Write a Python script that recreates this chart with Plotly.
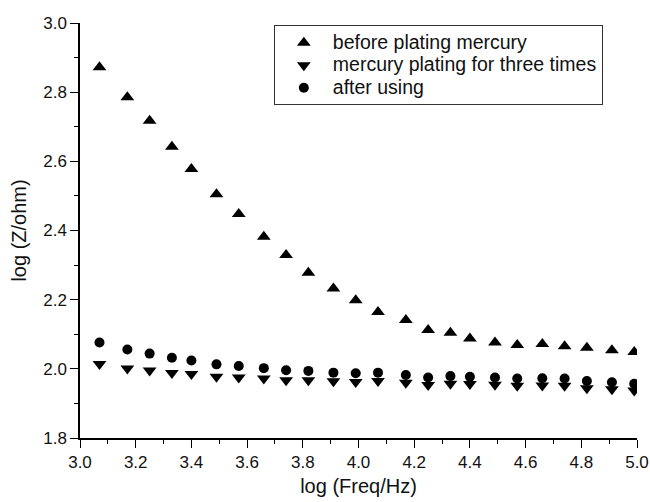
import plotly.graph_objects as go

log_freq = [3.07, 3.17, 3.25, 3.33, 3.40, 3.49, 3.57, 3.66, 3.74, 3.82, 3.91, 3.99,
            4.07, 4.17, 4.25, 4.33, 4.40, 4.49, 4.57, 4.66, 4.74, 4.82, 4.91, 4.99]

before_plating = [2.872, 2.785, 2.717, 2.642, 2.578, 2.505, 2.448, 2.382, 2.329, 2.278, 2.232, 2.198,
                  2.164, 2.141, 2.112, 2.104, 2.088, 2.076, 2.069, 2.072, 2.065, 2.061, 2.054, 2.049]
plating_three = [2.014, 2.001, 1.995, 1.988, 1.985, 1.977, 1.975, 1.972, 1.967, 1.967, 1.964, 1.962,
                 1.965, 1.960, 1.953, 1.957, 1.956, 1.954, 1.951, 1.952, 1.951, 1.944, 1.941, 1.937]
after_using = [2.076, 2.056, 2.044, 2.032, 2.024, 2.013, 2.008, 2.002, 1.996, 1.994, 1.989, 1.987,
               1.989, 1.982, 1.975, 1.979, 1.977, 1.975, 1.972, 1.973, 1.972, 1.965, 1.961, 1.957]

names = ["before plating mercury", "mercury plating for three times", "after using"]

FONT = "Arial, Liberation Sans, sans-serif"


def big(txt):
    return "<span style='font-size:19.5px'>" + txt + "</span>"


fig = go.Figure()
fig.add_trace(go.Scatter(x=log_freq, y=before_plating, mode="markers", name=big(names[0]),
                         marker=dict(symbol="triangle-up", size=12, color="black")))
fig.add_trace(go.Scatter(x=log_freq, y=plating_three, mode="markers", name=big(names[1]),
                         marker=dict(symbol="triangle-down", size=12, color="black")))
fig.add_trace(go.Scatter(x=log_freq, y=after_using, mode="markers", name=big(names[2]),
                         marker=dict(symbol="circle", size=10, color="black")))

axis_common = dict(showline=True, linecolor="black", linewidth=1.5, mirror=False,
                   showgrid=False, zeroline=False, ticks="outside", ticklen=8, tickwidth=1,
                   tickcolor="black", automargin=False,
                   tickfont=dict(family=FONT, size=17, color="#111"),
                   minor=dict(ticks="outside", ticklen=4, tickwidth=1, tickcolor="black", dtick=0.1))

fig.update_xaxes(range=[3.0, 5.0], dtick=0.2, tick0=3.0, tickformat=".1f",
                 title=dict(text="log (Freq/Hz)", font=dict(family=FONT, size=20, color="#111"), standoff=8),
                 **axis_common)
fig.update_yaxes(range=[1.8, 3.0], dtick=0.2, tick0=1.8, tickformat=".1f",
                 title=dict(text="log (Z/ohm)", font=dict(family=FONT, size=20, color="#111"), standoff=11),
                 **axis_common)

fig.update_layout(
    width=650, height=502,
    margin=dict(l=80, r=13, t=23, b=64),
    paper_bgcolor="white", plot_bgcolor="white",
    font=dict(family=FONT, color="#111"),
    showlegend=True,
    legend=dict(x=0.348, y=0.994, xanchor="left", yanchor="top",
                bordercolor="#333", borderwidth=1, bgcolor="white",
                font=dict(family=FONT, size=15, color="#111"),
                itemwidth=48, tracegroupgap=0),
)

fig.write_html("out.html")
